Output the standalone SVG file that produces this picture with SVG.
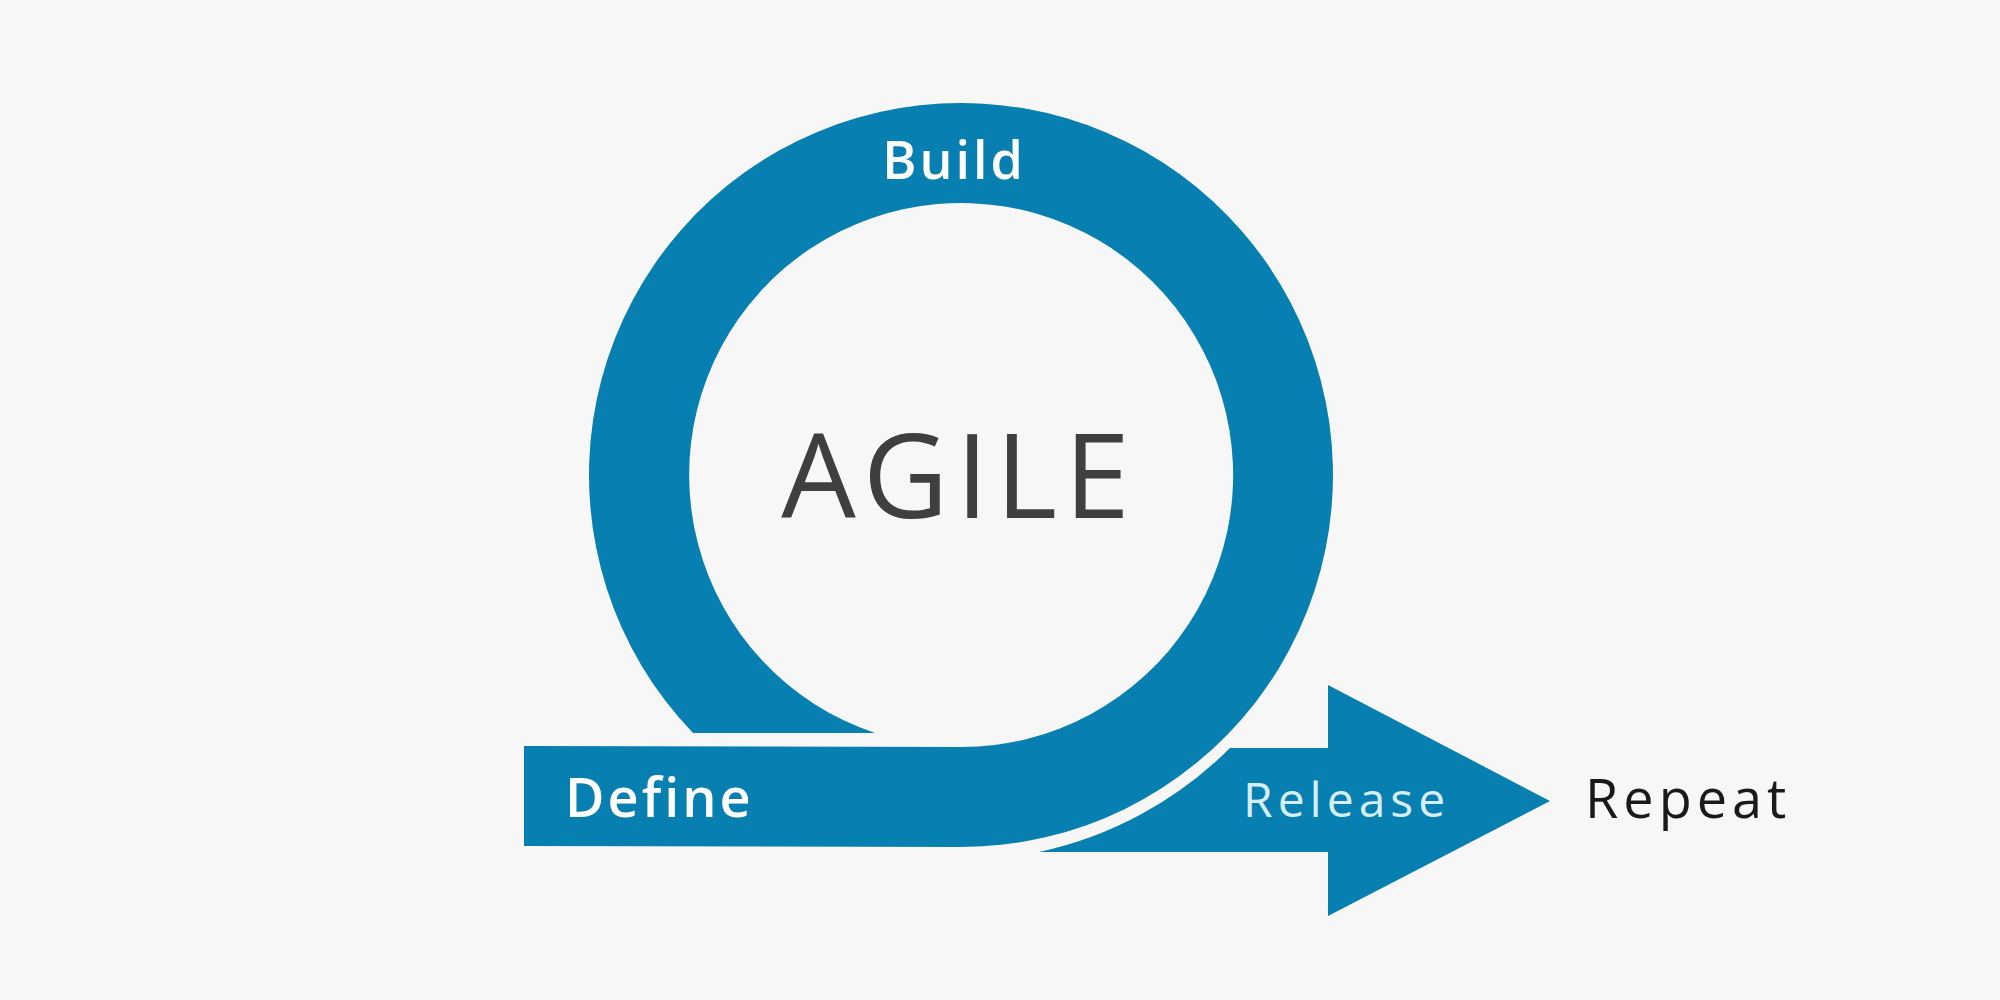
<svg xmlns="http://www.w3.org/2000/svg" width="2000" height="1000" viewBox="0 0 2000 1000">
<style>
.b{fill:#077fb1}
text{font-family:"Open Sans","Liberation Sans",sans-serif}
.w{fill:#ffffff;font-weight:600}
</style>
<rect width="2000" height="1000" fill="#f7f7f7"/>
<g id="connectors">
<path class="b" d="M693,733 A372,372 0 1 1 961,847 L524,846 L524,746 L961,747 A272,272 0 1 0 875,733 Z"/>
<path class="b" d="M1230,748 L1328,748 L1328,685 L1550,801 L1328,916 L1328,852 L1039,852 A385,385 0 0 0 1230,748 Z"/>
</g>
<g id="build"><text class="w" x="954" y="179" font-size="52" text-anchor="middle" letter-spacing="3">Build</text></g>
<g id="agile"><text x="959" y="518" font-size="118" text-anchor="middle" fill="#3f3f3f" font-weight="500" letter-spacing="7">AGILE</text></g>
<g id="define"><text class="w" x="565" y="817" font-size="54" letter-spacing="3">Define</text></g>
<g id="release"><text x="1243" y="817" font-size="48" fill="#d6eef7" letter-spacing="5">Release</text></g>
<g id="repeat"><text x="1585" y="818" font-size="54" fill="#1a1a1a" font-weight="500" letter-spacing="5">Repeat</text></g>
</svg>
